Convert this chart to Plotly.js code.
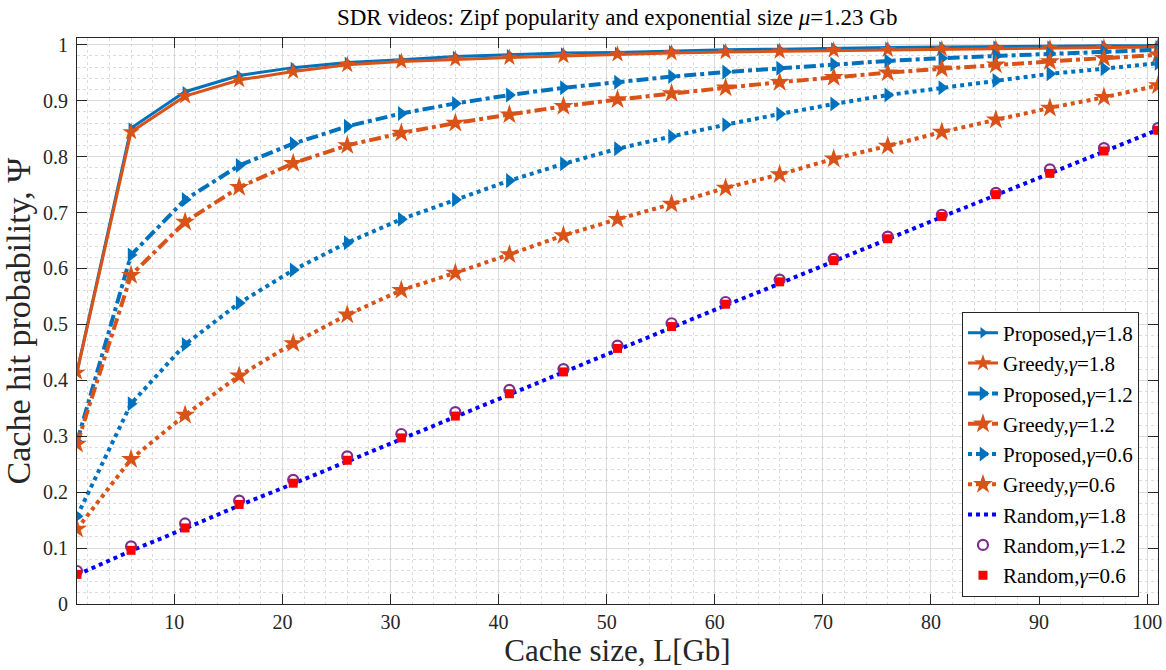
<!DOCTYPE html>
<html>
<head>
<meta charset="utf-8">
<script src="https://cdn.plot.ly/plotly-3.0.1.min.js"></script>
<style>
  html, body { margin: 0; padding: 0; background: #ffffff; }
  #chart { width: 1166px; height: 670px; }
</style>
</head>
<body>
<div id="chart"></div>
<script>
// Cache size L [Gb]
const cacheSize = [1, 6, 11, 16, 21, 26, 31, 36, 41, 46, 51, 56, 61, 66, 71, 76, 81, 86, 91, 96, 101];

// Cache hit probability per policy and Zipf exponent gamma
const proposed18 = [0.415, 0.851, 0.916, 0.945, 0.959, 0.968, 0.973, 0.979, 0.982, 0.985, 0.986, 0.989, 0.991, 0.992, 0.994, 0.995, 0.996, 0.997, 0.997, 0.998, 0.998];
const greedy18   = [0.414, 0.844, 0.908, 0.937, 0.952, 0.964, 0.970, 0.974, 0.977, 0.980, 0.983, 0.985, 0.987, 0.988, 0.990, 0.991, 0.992, 0.993, 0.994, 0.995, 0.996];
const proposed12 = [0.290, 0.624, 0.723, 0.784, 0.823, 0.854, 0.877, 0.895, 0.910, 0.923, 0.933, 0.943, 0.951, 0.958, 0.965, 0.971, 0.976, 0.980, 0.984, 0.988, 0.991];
const greedy12   = [0.286, 0.588, 0.683, 0.745, 0.788, 0.820, 0.842, 0.860, 0.875, 0.890, 0.902, 0.913, 0.923, 0.933, 0.942, 0.950, 0.957, 0.964, 0.970, 0.976, 0.982];
const proposed06 = [0.157, 0.358, 0.464, 0.538, 0.597, 0.646, 0.688, 0.723, 0.757, 0.787, 0.814, 0.836, 0.857, 0.876, 0.894, 0.910, 0.923, 0.936, 0.948, 0.957, 0.967];
const greedy06   = [0.134, 0.259, 0.338, 0.408, 0.466, 0.517, 0.561, 0.592, 0.625, 0.659, 0.688, 0.715, 0.744, 0.768, 0.796, 0.819, 0.844, 0.866, 0.887, 0.906, 0.927];
const random18   = [0.052, 0.095, 0.135, 0.176, 0.215, 0.255, 0.295, 0.335, 0.375, 0.414, 0.455, 0.494, 0.534, 0.573, 0.613, 0.652, 0.692, 0.731, 0.770, 0.809, 0.848];
const random12   = [0.059, 0.103, 0.144, 0.185, 0.222, 0.264, 0.304, 0.343, 0.383, 0.420, 0.462, 0.502, 0.540, 0.580, 0.617, 0.657, 0.696, 0.735, 0.777, 0.815, 0.851];
const random06   = [0.053, 0.096, 0.136, 0.178, 0.216, 0.257, 0.297, 0.336, 0.376, 0.415, 0.457, 0.496, 0.536, 0.576, 0.614, 0.653, 0.693, 0.732, 0.770, 0.810, 0.847];

const seriesNames = [
  'Proposed,<i>γ</i>=1.8', 'Greedy,<i>γ</i>=1.8',
  'Proposed,<i>γ</i>=1.2', 'Greedy,<i>γ</i>=1.2',
  'Proposed,<i>γ</i>=0.6', 'Greedy,<i>γ</i>=0.6',
  'Random,<i>γ</i>=1.8', 'Random,<i>γ</i>=1.2', 'Random,<i>γ</i>=0.6'
];

const BLUE = '#0072BD';
const ORANGE = '#D95319';
const SERIF = '"Liberation Serif", "Times New Roman", serif';

function curve(y, name, color, dash, width, symbol, size) {
  return {
    x: cacheSize, y: y, name: name, type: 'scatter', mode: 'lines+markers',
    line: { color: color, width: width, dash: dash },
    marker: { symbol: symbol, size: size, color: color, line: { width: 0 } }
  };
}

const traces = [
  curve(proposed18, seriesNames[0], BLUE, 'solid', 3, 'triangle-right', 10),
  curve(greedy18, seriesNames[1], ORANGE, 'solid', 3, 'star', 13),
  curve(proposed12, seriesNames[2], BLUE, 'dashdot', 4, 'triangle-right', 13),
  curve(greedy12, seriesNames[3], ORANGE, 'dashdot', 4, 'star', 15),
  curve(proposed06, seriesNames[4], BLUE, 'dot', 4, 'triangle-right', 13),
  curve(greedy06, seriesNames[5], ORANGE, 'dot', 4, 'star', 15),
  {
    x: cacheSize, y: random18, name: seriesNames[6], type: 'scatter', mode: 'lines',
    line: { color: '#0000FF', width: 4, dash: 'dot' }
  },
  {
    x: cacheSize, y: random12, name: seriesNames[7], type: 'scatter', mode: 'markers',
    marker: { symbol: 'circle-open', size: 10, color: '#7E2F8E', line: { width: 2.2, color: '#7E2F8E' } }
  },
  {
    x: cacheSize, y: random06, name: seriesNames[8], type: 'scatter', mode: 'markers',
    marker: { symbol: 'square', size: 9, color: '#FF0000', line: { width: 0 } }
  }
];

const axisCommon = {
  showline: true, linecolor: '#262626', linewidth: 1, mirror: 'allticks',
  ticks: 'inside', ticklen: 10, tickwidth: 1, tickcolor: '#262626',
  showgrid: true, gridcolor: '#dadada', gridwidth: 1,
  zeroline: false,
  tickfont: { family: SERIF, size: 20, color: '#262626' }
};

const layout = {
  width: 1166, height: 670,
  margin: { l: 77, r: 8, t: 38, b: 66 },
  paper_bgcolor: '#ffffff', plot_bgcolor: '#ffffff',
  font: { family: SERIF, color: '#000000' },
  title: {
    text: 'SDR videos: Zipf popularity and exponential size <i>μ</i>=1.23 Gb',
    font: { family: SERIF, size: 23, color: '#000000' },
    x: 0.5293, xanchor: 'center', y: 0.975, yanchor: 'middle'
  },
  xaxis: Object.assign({}, axisCommon, {
    range: [1, 101], tick0: 0, dtick: 10,
    minor: { dtick: 2, showgrid: true, gridcolor: '#dcdcdc', griddash: 'dot', gridwidth: 1 },
    title: { text: 'Cache size, L[Gb]', font: { family: SERIF, size: 31, color: '#262626' }, standoff: 6 }
  }),
  yaxis: Object.assign({}, axisCommon, {
    range: [0, 1.012], tick0: 0, dtick: 0.1,
    ticklabelstandoff: 4,
    minor: { dtick: 0.02, showgrid: true, gridcolor: '#dcdcdc', griddash: 'dot', gridwidth: 1 },
    title: { text: 'Cache hit probability, Ψ', font: { family: SERIF, size: 34, color: '#262626' }, standoff: 6 }
  }),
  showlegend: true,
  legend: {
    x: 0.9824, xanchor: 'right', y: 0.013, yanchor: 'bottom',
    bgcolor: '#ffffff', bordercolor: '#262626', borderwidth: 1,
    font: { family: SERIF, size: 21, color: '#000000' },
    tracegroupgap: 0
  }
};

Plotly.newPlot('chart', traces, layout, { displayModeBar: false, staticPlot: true });
</script>
</body>
</html>
